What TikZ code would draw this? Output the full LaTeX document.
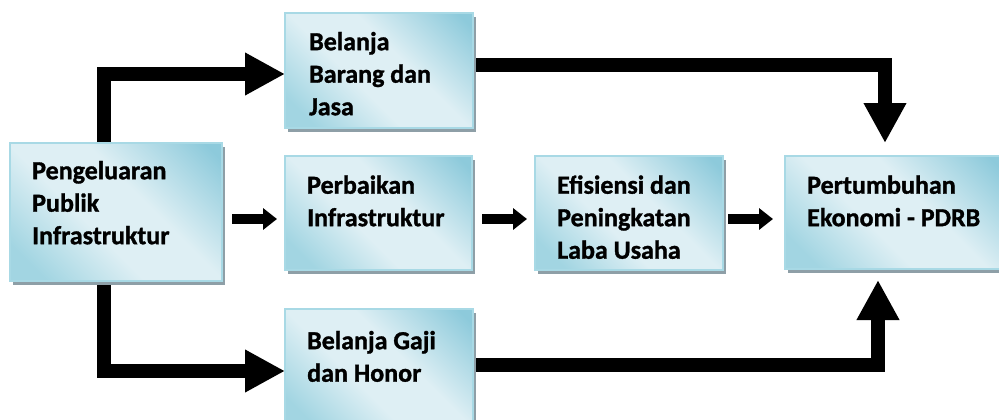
\documentclass[tikz,border=0pt]{standalone}
\usepackage{fontspec}
\setmainfont{Carlito}
\newfontfamily\boxfont{Carlito}[UprightFont={* Bold}, UprightFeatures={FakeBold=1.2}]
\usetikzlibrary{arrows.meta,shadows}
\definecolor{boxdark}{HTML}{8DCADB}
\definecolor{boxlight}{HTML}{DEEFF4}
\definecolor{boxmid}{HTML}{A2D5E2}
\definecolor{boxedge}{HTML}{A8D9E5}
\definecolor{shadowgray}{HTML}{8E9FA7}
\pgfdeclarelayer{bg}
\pgfsetlayers{bg,main}
\pgfdeclareverticalshading{boxshade}{100bp}{color(0bp)=(boxmid); color(22bp)=(boxmid); color(42bp)=(boxlight); color(58bp)=(boxlight); color(82bp)=(boxdark); color(100bp)=(boxdark)}
\tikzset{
  box/.style={anchor=north west, inner sep=0pt, outer sep=0pt, draw=boxedge, line width=1.2pt,
    shading=boxshade, shading angle=-45,
    drop shadow={shadow xshift=3pt, shadow yshift=-4pt, fill=shadowgray, opacity=1}},
  boxtext/.style={anchor=north west, inner sep=0pt, align=left, text=black,
    font={\boxfont\fontsize{26}{32.5}\selectfont}},
  bigarrow/.style={line width=14pt, line join=miter, line cap=butt, -{Triangle[length=40pt,width=40pt]}},
  smallarrow/.style={line width=10pt, line cap=butt, -{Triangle[length=14pt,width=21pt]}}
}
\newcommand{\fs}{\rule{0pt}{22pt}}
\begin{document}
\begin{tikzpicture}[x=1pt,y=-1pt]
\useasboundingbox (0,0) rectangle (999,420);
% bend coordinates
\coordinate (c1) at (104,74);
\coordinate (c2) at (885,65);
\coordinate (t2) at (885,143);
\coordinate (c3) at (104,371);
\coordinate (c4) at (878,365);
\coordinate (t4) at (878,280);
\coordinate (m) at (0,219);
% boxes
\path (10,143) node[box, minimum width=212pt, minimum height=138pt] (b1) {};
\path (285,13) node[box, minimum width=188pt, minimum height=115pt] (b2) {};
\path (285,156) node[box, minimum width=187pt, minimum height=114pt] (b3) {};
\path (535,156) node[box, minimum width=188pt, minimum height=114pt] (b4) {};
\path (785,156) node[box, minimum width=220pt, minimum height=113pt] (b5) {};
\path (285,309) node[box, minimum width=188pt, minimum height=120pt] (b6) {};
% connectors
\begin{pgfonlayer}{bg}
\draw[bigarrow] (b1.north -| c1) |- (b2.west |- c1);
\draw[bigarrow] (b2.east |- c2) -| (t2);
\draw[bigarrow] (b1.south -| c3) |- (b6.west |- c3);
\draw[bigarrow] (b6.east |- c4) -| (t4);
\draw[smallarrow, shorten <=10pt, shorten >=8pt] (b1.east |- m) -- (b3.west |- m);
\draw[smallarrow, shorten <=10pt, shorten >=8pt] (b3.east |- m) -- (b4.west |- m);
\draw[smallarrow, shorten <=5pt, shorten >=12pt] (b4.east |- m) -- (b5.west |- m);
\end{pgfonlayer}
% texts
\node[boxtext] (b1t) at (32,157) {\fs Pengeluaran\\Publik\\Infrastruktur};
\node[boxtext] (b2t) at (309,28) {\fs Belanja\\Barang dan\\Jasa};
\node[boxtext] (b3t) at (307,171.5) {\fs Perbaikan\\Infrastruktur};
\node[boxtext] (b4t) at (557,171.5) {\fs Efisiensi dan\\Peningkatan\\Laba Usaha};
\node[boxtext] (b5t) at (807,171.5) {\fs Pertumbuhan\\Ekonomi - PDRB};
\node[boxtext] (b6t) at (307,327) {\fs Belanja Gaji\\dan Honor};
\end{tikzpicture}
\end{document}
